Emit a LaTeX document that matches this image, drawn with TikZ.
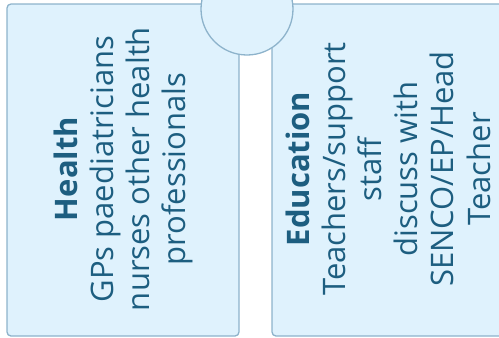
\documentclass[tikz,border=0pt]{standalone}
\usepackage{fontspec}
\setmainfont{Open Sans}
\definecolor{boxfill}{HTML}{DFF2FD}
\definecolor{boxline}{HTML}{8DB3CB}
\definecolor{txtcol}{HTML}{1D5E80}
\tikzset{
  panel/.style={draw=boxline, fill=boxfill, line width=1.3pt, rounded corners=4pt, inner sep=0pt},
  hubcirc/.style={circle, draw=boxline, fill=boxfill, line width=1.3pt, inner sep=0pt},
  paneltext/.style={text=txtcol, align=center, rotate=90, inner sep=0pt,
    font=\fontsize{31}{36.2}\selectfont}
}
\begin{document}
\begin{tikzpicture}[x=1pt,y=-1pt]
\useasboundingbox (0,0) rectangle (499,338);
\clip (0,0) rectangle (499,338);
\node[panel, minimum width=232pt, minimum height=332pt] (health) at (123,170) {};
\node[panel, minimum width=232pt, minimum height=332pt] (education) at (388,170) {};
\node[paneltext] (healthtxt) at (123.5,169) {\textbf{Health}\\GPs paediatricians\\nurses other health\\professionals};
\node[paneltext] (edutxt) at (388,169) {\textbf{Education}\\Teachers/support\\staff\\discuss with\\SENCO/EP/Head\\Teacher};
\node[hubcirc, minimum size=92pt] (hub) at (247,9) {};
\end{tikzpicture}
\end{document}
